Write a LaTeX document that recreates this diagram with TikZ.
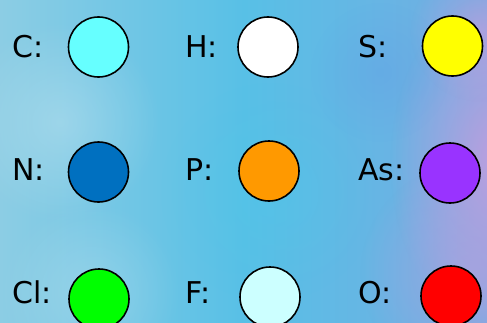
\documentclass[tikz,border=0pt]{standalone}
\usepackage{fontspec}
\setmainfont{DejaVu Sans}
\usetikzlibrary{shadings,fadings}
\definecolor{bgA}{RGB}{140,205,228}
\definecolor{bgB}{RGB}{88,192,230}
\definecolor{bgC}{RGB}{115,172,226}
\definecolor{bgD}{RGB}{210,155,222}
\definecolor{cC}{HTML}{66FFFF}
\definecolor{cH}{HTML}{FFFFFF}
\definecolor{cS}{HTML}{FFFF00}
\definecolor{cN}{HTML}{0070C0}
\definecolor{cP}{HTML}{FF9900}
\definecolor{cAs}{HTML}{9933FF}
\definecolor{cCl}{HTML}{00FF00}
\definecolor{cF}{HTML}{CCFFFF}
\definecolor{cO}{HTML}{FF0000}
\tikzfading[name=softcirc, inner color=transparent!0, outer color=transparent!100]
\tikzset{
  atom/.style={circle, draw=black, line width=1.6pt, minimum size=60pt, inner sep=0pt},
  lbl/.style={anchor=base west, inner sep=0pt, font=\fontsize{30}{30}\selectfont, text=black},
  blob/.style={path fading=softcirc, fit fading=true}
}
\begin{document}
\begin{tikzpicture}[x=1pt,y=1pt]
\useasboundingbox (0,0) rectangle (487,322);
% background watercolor approximation
\shade[left color=bgA, right color=bgC, middle color=bgB] (0,0) rectangle (487,322);
\begin{scope}
\clip (0,0) rectangle (487,322);
\fill[bgD, blob, opacity=0.8] (500,160) ellipse (110 and 170);
\fill[bgD, blob, opacity=0.5] (480,290) circle (70);
\fill[bgD!70!bgC, blob, opacity=0.6] (470,50) circle (110);
\fill[bgA!60!white, blob, opacity=0.5] (60,200) circle (100);
\fill[bgA!60!white, blob, opacity=0.4] (90,30) circle (90);
\fill[bgB!85!cyan, blob, opacity=0.35] (270,130) circle (110);
\fill[bgC!80!blue, blob, opacity=0.2] (380,250) circle (70);
\end{scope}
% row 1
\node[lbl] (tC) at (12,265) {C:};
\node[atom, fill=cC] (aC) at (98.5,275) {};
\node[lbl] (tH) at (185,265) {H:};
\node[atom, fill=cH] (aH) at (268,275) {};
\node[lbl] (tS) at (358,265) {S:};
\node[atom, fill=cS] (aS) at (452.5,276) {};
% row 2
\node[lbl] (tN) at (12,142) {N:};
\node[atom, fill=cN] (aN) at (98.5,150) {};
\node[lbl] (tP) at (185,142) {P:};
\node[atom, fill=cP] (aP) at (269,151) {};
\node[lbl] (tAs) at (358,142) {As:};
\node[atom, fill=cAs] (aAs) at (450,149) {};
% row 3
\node[lbl] (tCl) at (12,19) {Cl:};
\node[atom, fill=cCl] (aCl) at (99,23) {};
\node[lbl] (tF) at (185,19) {F:};
\node[atom, fill=cF] (aF) at (270,25) {};
\node[lbl] (tO) at (358,19) {O:};
\node[atom, fill=cO] (aO) at (451,26) {};
\end{tikzpicture}
\end{document}
